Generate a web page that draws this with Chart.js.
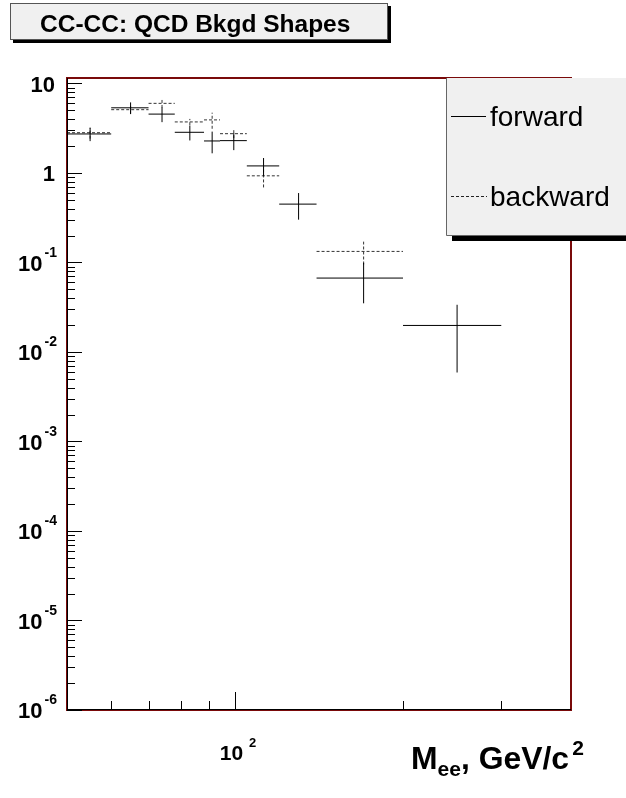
<!DOCTYPE html>
<html><head><meta charset="utf-8">
<script src="https://cdn.jsdelivr.net/npm/chart.js@4/dist/chart.umd.min.js"></script>
<style>html,body{margin:0;padding:0;background:#fff;}canvas{display:block;}</style>
</head><body>
<canvas id="c" width="626" height="798"></canvas>
<script>
// ---- data ----
const binEdges = [50, 60, 70, 78, 88, 94, 105, 120, 140, 200, 300];
const forwardValues = [2.73, 5.35, 4.55, 2.85, 2.28, 2.3, 1.2, 0.449, 0.067, 0.0198];
const forwardErrors = [0.46, 0.8, 0.85, 0.54, 0.62, 0.5, 0.27, 0.148, 0.032, 0.0139];
const backwardValues = [2.82, 5.1, 6.0, 3.72, 3.92, 2.75, 0.93, null, 0.133, null];
const backwardErrors = [0.4, 0.5, 0.67, 0.3, 0.8, 0.3, 0.24, null, 0.038, null];
const seriesNames = ['forward', 'backward'];
const yTickValues = [1e-6, 1e-5, 1e-4, 1e-3, 1e-2, 1e-1, 1, 10];
const yTickBases = ['10', '10', '10', '10', '10', '10', '1', '10'];
const yTickExps = ['-6', '-5', '-4', '-3', '-2', '-1', '', ''];
const xMajorTicks = [100];
const xTickBases = ['10'];
const xTickExps = ['2'];
const xMinorTicks = [60, 70, 80, 90, 200, 300];
const chartTitle = 'CC-CC: QCD Bkgd Shapes';
const xTitleParts = ['M', 'ee', ', GeV/c', '2'];
const xRange = [50, 400];
const yRange = [1e-6, 11.52];

function histPoints(values, errors) {
  const pts = [];
  values.forEach((v, i) => {
    if (v == null) return;
    const lo = binEdges[i], hi = binEdges[i + 1], c = (lo + hi) / 2, e = errors[i] || 0;
    pts.push({x: lo, y: v}, {x: hi, y: v}, {x: hi, y: null});
    pts.push({x: c, y: v - e}, {x: c, y: v + e}, {x: c, y: null});
  });
  return pts;
}

const FONT = '"Liberation Sans", Arial, Helvetica, sans-serif';

const rootDecor = {
  id: 'rootDecor',
  beforeDraw(chart) {
    const ctx = chart.ctx;
    ctx.save();
    ctx.fillStyle = '#fff';
    ctx.fillRect(0, 0, chart.width, chart.height);
    // title box with shadow
    ctx.fillStyle = '#000';
    ctx.fillRect(13, 6, 378, 37);
    ctx.fillStyle = '#f0f0f0';
    ctx.fillRect(10, 3, 378, 37);
    ctx.strokeStyle = '#555';
    ctx.lineWidth = 1;
    ctx.strokeRect(10.5, 3.5, 377, 36);
    ctx.fillStyle = '#000';
    ctx.font = 'bold 24.5px ' + FONT;
    ctx.textBaseline = 'alphabetic';
    ctx.textAlign = 'left';
    ctx.fillText(chartTitle, 40, 32);
    ctx.restore();
  },
  afterDatasetsDraw(chart) {
    const ctx = chart.ctx, a = chart.chartArea;
    const xs = chart.scales.x, ys = chart.scales.y;
    ctx.save();
    // frame
    ctx.strokeStyle = '#7a0a0a';
    ctx.lineWidth = 2;
    ctx.strokeRect(a.left, a.top, a.right - a.left, a.bottom - a.top);
    ctx.strokeStyle = '#000';
    ctx.lineWidth = 1;
    ctx.beginPath();
    ctx.moveTo(a.left + 0.5, a.top); ctx.lineTo(a.left + 0.5, a.bottom);
    ctx.moveTo(a.left, a.bottom - 0.5); ctx.lineTo(a.right, a.bottom - 0.5);
    ctx.stroke();
    // y ticks
    ctx.beginPath();
    for (let d = -6; d <= 1; d++) {
      for (let m = 1; m <= 9; m++) {
        const v = m * Math.pow(10, d);
        if (v < yRange[0] || v > yRange[1]) continue;
        const py = Math.round(ys.getPixelForValue(v)) + 0.5;
        const len = m === 1 ? 15 : 8;
        ctx.moveTo(a.left, py); ctx.lineTo(a.left + len, py);
      }
    }
    // x ticks
    xMajorTicks.forEach(v => {
      const px = Math.round(xs.getPixelForValue(v)) + 0.5;
      ctx.moveTo(px, a.bottom); ctx.lineTo(px, a.bottom - 18);
    });
    xMinorTicks.forEach(v => {
      const px = Math.round(xs.getPixelForValue(v)) + 0.5;
      ctx.moveTo(px, a.bottom); ctx.lineTo(px, a.bottom - 9);
    });
    ctx.stroke();
    // y labels
    ctx.fillStyle = '#000';
    ctx.textAlign = 'right';
    ctx.textBaseline = 'alphabetic';
    yTickValues.forEach((v, i) => {
      const py = ys.getPixelForValue(v);
      if (yTickExps[i]) {
        ctx.font = 'bold 14px ' + FONT;
        const expW = ctx.measureText(yTickExps[i]).width;
        ctx.fillText(yTickExps[i], 57, py - 6);
        ctx.font = 'bold 22px ' + FONT;
        ctx.fillText(yTickBases[i], 57 - expW - 2, py + 8);
      } else {
        ctx.font = 'bold 22px ' + FONT;
        ctx.fillText(yTickBases[i], 55, py + 8);
      }
    });
    // x labels
    ctx.textAlign = 'left';
    xMajorTicks.forEach((v, i) => {
      const px = xs.getPixelForValue(v);
      ctx.font = 'bold 21px ' + FONT;
      const bw = ctx.measureText(xTickBases[i]).width;
      ctx.font = 'bold 13px ' + FONT;
      const ew = ctx.measureText(xTickExps[i]).width;
      const start = px + 3 - (bw + 6 + ew) / 2;
      ctx.font = 'bold 21px ' + FONT;
      ctx.fillText(xTickBases[i], start, 760);
      ctx.font = 'bold 13px ' + FONT;
      ctx.fillText(xTickExps[i], start + bw + 6, 747);
    });
    // axis title, fitted to span 411..584
    const unit = (f) => { ctx.font = 'bold 100px ' + FONT; return ctx.measureText(f).width / 100; };
    const subScale = 0.66;
    const per = unit(xTitleParts[0]) + subScale * unit(xTitleParts[1]) + unit(xTitleParts[2]) + subScale * unit(xTitleParts[3]) + 0.1;
    const s = (584 - 411) / per;
    const big = 'bold ' + s.toFixed(2) + 'px ' + FONT, small = 'bold ' + (s * subScale).toFixed(2) + 'px ' + FONT;
    let tx = 411;
    const tb = 769;
    ctx.font = big; ctx.fillText(xTitleParts[0], tx, tb); tx += ctx.measureText(xTitleParts[0]).width;
    ctx.font = small; ctx.fillText(xTitleParts[1], tx, tb + 0.22 * s); tx += ctx.measureText(xTitleParts[1]).width;
    ctx.font = big; ctx.fillText(xTitleParts[2], tx, tb); tx += ctx.measureText(xTitleParts[2]).width + 0.1 * s;
    ctx.font = small; ctx.fillText(xTitleParts[3], tx, tb - 0.45 * s);
    // legend
    ctx.fillStyle = '#000';
    ctx.fillRect(452, 236, 180, 5);
    ctx.fillStyle = '#f0f0f0';
    ctx.fillRect(446, 78, 190, 158);
    ctx.strokeStyle = '#666';
    ctx.lineWidth = 1;
    ctx.beginPath();
    ctx.moveTo(446.5, 78); ctx.lineTo(446.5, 235.5); ctx.lineTo(636, 235.5);
    ctx.stroke();
    ctx.strokeStyle = '#000';
    ctx.beginPath();
    ctx.moveTo(451, 116.5); ctx.lineTo(486, 116.5);
    ctx.stroke();
    ctx.setLineDash([3, 2]);
    ctx.strokeStyle = '#222';
    ctx.beginPath();
    ctx.moveTo(451, 196.5); ctx.lineTo(487, 196.5);
    ctx.stroke();
    ctx.setLineDash([]);
    ctx.fillStyle = '#000';
    ctx.font = '28px ' + FONT;
    ctx.textAlign = 'left';
    ctx.fillText(seriesNames[0], 490, 126);
    ctx.fillText(seriesNames[1], 490, 206);
    ctx.restore();
  }
};

new Chart(document.getElementById('c'), {
  type: 'scatter',
  data: {
    datasets: [
      {
        label: seriesNames[0],
        data: histPoints(forwardValues, forwardErrors),
        showLine: true,
        spanGaps: false,
        borderColor: '#000',
        borderWidth: 1,
        pointRadius: 0,
        pointHoverRadius: 0,
        fill: false,
        tension: 0
      },
      {
        label: seriesNames[1],
        data: histPoints(backwardValues, backwardErrors),
        showLine: true,
        spanGaps: false,
        borderColor: '#333',
        borderDash: [3, 2],
        borderWidth: 1,
        pointRadius: 0,
        pointHoverRadius: 0,
        fill: false,
        tension: 0
      }
    ]
  },
  options: {
    responsive: false,
    animation: false,
    devicePixelRatio: 1,
    layout: {padding: {left: 67, top: 78, right: 55, bottom: 88}},
    plugins: {legend: {display: false}, tooltip: {enabled: false}, title: {display: false}},
    scales: {
      x: {type: 'logarithmic', min: xRange[0], max: xRange[1], display: false},
      y: {type: 'logarithmic', min: yRange[0], max: yRange[1], display: false}
    }
  },
  plugins: [rootDecor]
});
</script>
</body></html>
